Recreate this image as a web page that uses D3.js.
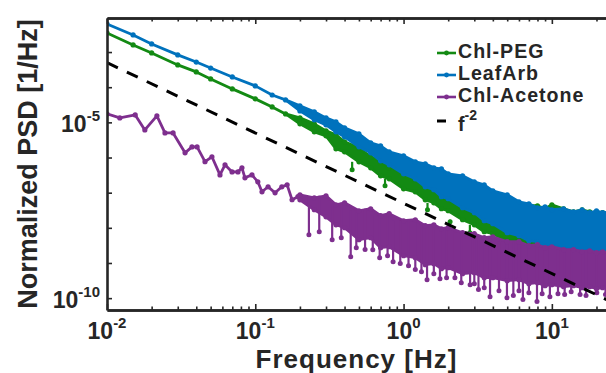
<!DOCTYPE html>
<html>
<head>
<meta charset="utf-8">
<script src="https://cdn.jsdelivr.net/npm/d3@7"></script>
<style>
html, body { margin: 0; padding: 0; background: #fff; }
svg { display: block; }
text { font-family: "Liberation Sans", Arial, sans-serif; font-weight: bold; fill: #262626; }
</style>
</head>
<body>
<div id="chart"></div>
<script>
// 低频段（细线部分）频率 [Hz]
const lowFreq = [0.01, 0.015, 0.02, 0.03, 0.04, 0.05, 0.07, 0.1, 0.13, 0.16];
const pegLow  = [3.49e-3, 1.59e-3, 9.42e-4, 4.31e-4, 2.72e-4, 1.72e-4, 8.95e-5, 4.66e-5, 2.75e-5, 1.74e-5];
const leafLow = [6.3e-3, 3.06e-3, 1.70e-3, 8.3e-4, 5.2e-4, 3.5e-4, 1.96e-4, 1.09e-4, 6.0e-5, 4.36e-5];

// Chl-Acetone 低频段起伏较大，单独取点
const acetoneLowFreq = [0.01, 0.0122, 0.0155, 0.018, 0.0217, 0.0246, 0.0279, 0.0336, 0.0374, 0.0405,
  0.0458, 0.051, 0.0578, 0.0625, 0.0697, 0.0764, 0.0813, 0.0852, 0.095, 0.104,
  0.111, 0.122, 0.136, 0.151, 0.164, 0.177, 0.194];
const acetoneLow = [1.74e-5, 1.34e-5, 1.63e-5, 6.1e-6, 1.53e-5, 5.0e-6, 5.0e-6, 1.36e-6, 2.0e-6, 2.0e-6,
  7.6e-7, 1.05e-6, 3.2e-7, 6.2e-7, 3.9e-7, 3.9e-7, 5.1e-7, 2.65e-7, 3.2e-7, 2.04e-7,
  1.06e-7, 1.47e-7, 9.9e-8, 1.47e-7, 1.67e-7, 6.3e-8, 7.7e-8];

// 高频段噪声带：上沿 / 下沿
const bandFreq = [0.2, 0.25, 0.3, 0.35, 0.4, 0.5, 0.6, 0.7, 0.8, 1.0, 1.2, 1.4, 1.6, 1.8, 2.0, 2.5,
  3, 3.5, 4, 5, 6, 7, 8, 9, 10, 12, 14, 16, 18, 20, 22, 25];
const leafHi = [2.94e-5, 1.99e-5, 1.34e-5, 1.03e-5, 6.98e-6, 4.71e-6, 2.62e-6, 2.15e-6, 1.45e-6, 1.12e-6,
  7.55e-7, 6.62e-7, 5.09e-7, 4.77e-7, 3.44e-7, 3.02e-7, 2.04e-7, 1.67e-7, 1.13e-7, 8.71e-8,
  5.51e-8, 4.84e-8, 3.72e-8, 3.97e-8, 3.27e-8, 3.49e-8, 2.86e-8, 3.27e-8, 2.69e-8, 3.06e-8, 2.69e-8, 2.86e-8];
const leafLo = [2.12e-5, 1.18e-5, 8.49e-6, 5.37e-6, 3.87e-6, 2.01e-6, 1.36e-6, 8.05e-7, 6.21e-7, 3.44e-7,
  2.48e-7, 1.47e-7, 1.21e-7, 7.65e-8, 6.71e-8, 3.72e-8, 2.69e-8, 1.59e-8, 1.31e-8, 7.26e-9,
  5.97e-9, 4.31e-9, 4.03e-9, 3.10e-9, 3.31e-9, 2.55e-9, 2.55e-9, 2.09e-9, 2.23e-9, 1.96e-9, 2.09e-9, 1.84e-9];
const pegHi = [1.34e-5, 9.06e-6, 5.74e-6, 4.42e-6, 2.79e-6, 1.89e-6, 1.05e-6, 8.05e-7, 5.09e-7, 4.19e-7,
  2.48e-7, 2.18e-7, 1.47e-7, 1.38e-7, 9.93e-8, 8.17e-8, 5.89e-8, 5.51e-8, 4.25e-8, 4.53e-8,
  3.72e-8, 4.25e-8, 4.25e-8, 3.49e-8, 4.53e-8, 3.49e-8, 2.86e-8, 3.27e-8, 2.86e-8, 2.52e-8, 2.69e-8, 2.35e-8];
const pegLo = [9.06e-6, 5.37e-6, 4.13e-6, 1.77e-6, 1.45e-6, 7.55e-7, 5.09e-7, 3.02e-7, 2.48e-7, 1.29e-7,
  1.06e-7, 6.28e-8, 5.16e-8, 3.49e-8, 3.06e-8, 1.70e-8, 1.22e-8, 7.74e-9, 6.80e-9, 4.31e-9,
  4.03e-9, 2.90e-9, 2.90e-9, 2.55e-9, 2.55e-9, 2.23e-9, 2.23e-9, 1.96e-9, 2.09e-9, 1.84e-9, 1.96e-9, 1.72e-9];
const acetoneHi = [8.71e-8, 7.16e-8, 8.17e-8, 4.53e-8, 5.16e-8, 3.06e-8, 3.49e-8, 2.21e-8, 2.52e-8, 1.59e-8,
  1.70e-8, 1.15e-8, 1.22e-8, 9.42e-9, 1.01e-8, 7.26e-9, 6.80e-9, 5.24e-9, 5.58e-9, 4.03e-9,
  4.03e-9, 3.10e-9, 3.31e-9, 2.72e-9, 2.90e-9, 2.39e-9, 2.39e-9, 2.09e-9, 2.23e-9, 1.96e-9, 2.09e-9, 1.84e-9];
const acetoneLo = [6.28e-8, 3.27e-8, 2.06e-8, 1.22e-8, 1.01e-8, 4.59e-9, 5.24e-9, 2.72e-9, 2.90e-9, 1.61e-9,
  1.42e-9, 8.95e-10, 9.55e-10, 6.89e-10, 7.35e-10, 4.97e-10, 5.30e-10, 3.82e-10, 3.82e-10, 3.14e-10,
  3.36e-10, 2.58e-10, 2.75e-10, 2.26e-10, 2.42e-10, 2.12e-10, 2.26e-10, 1.99e-10, 2.12e-10, 1.86e-10, 1.99e-10, 1.86e-10];

// 向下的孤立尖峰
const pegSpikeFreq = [0.45, 0.75, 1.45, 2.06, 2.8, 4.4, 5.5];
const pegSpikePsd  = [4.5e-7, 1.57e-7, 3.27e-8, 1.49e-8, 7.26e-9, 3.31e-9, 2.72e-9];
const acetoneSpikeFreq = [0.23, 0.27, 0.33, 0.38, 0.44, 0.48, 0.55, 0.62, 0.69, 0.78, 0.85, 0.95,
  1.08, 1.2, 1.32, 1.44, 1.6, 1.76, 1.95, 2.22, 2.45, 2.81, 3.0, 3.2, 3.5, 3.83, 4.4, 4.98,
  5.5, 6.0, 6.38, 7.0, 7.94, 8.6, 9.7, 11, 12.2, 13.5, 15.5, 17, 20.1, 23];
const acetoneSpikePsd = [6.4e-9, 7.74e-9, 4.6e-9, 5.24e-9, 1.51e-9, 2.72e-9, 2.4e-9, 2.39e-9, 1.42e-9, 1.61e-9, 1.09e-9, 9.6e-10,
  8.4e-10, 6.5e-10, 5.66e-10, 3.36e-10, 4.97e-10, 3.58e-10, 3.82e-10, 3.82e-10, 2.75e-10, 2.42e-10, 2.58e-10, 1.75e-10, 1.99e-10, 1.10e-10, 1.63e-10, 1.03e-10,
  1.18e-10, 1.63e-10, 9.1e-11, 1.43e-10, 8.0e-11, 1.34e-10, 1.10e-10, 1.34e-10, 1.26e-10, 1.53e-10, 1.26e-10, 1.18e-10, 1.43e-10, 1.26e-10];

// f^-2 参考线（两端点）
const refFreq = [0.01, 25];
const refPsd  = [5e-4, 8e-11];

// 坐标轴
const xDomain = [0.01, 30];
const yDomain = [4.6e-11, 9.3e-3];
const xMajor = [0.01, 0.1, 1, 10];
const xMajorExp = ["-2", "-1", "0", "1"];
const xMinor = [0.02, 0.03, 0.04, 0.05, 0.06, 0.07, 0.08, 0.09, 0.2, 0.3, 0.4, 0.5, 0.6, 0.7, 0.8, 0.9,
  2, 3, 4, 5, 6, 7, 8, 9, 20];
const yMajor = [1e-10, 1e-9, 1e-8, 1e-7, 1e-6, 1e-5, 1e-4, 1e-3];
const yLabelVals = [1e-5, 1e-10];
const yLabelExp = ["-5", "-10"];

const names  = ["Chl-PEG", "LeafArb", "Chl-Acetone"];
const colors = ["#138a13", "#0072bd", "#7e2f8e"];

const W = 606, H = 373;
const L = 107, R = 622.6, T = 18, B = 310;

const x = d3.scaleLog().domain(xDomain).range([L, R]);
const y = d3.scaleLog().domain(yDomain).range([B, T]);

const svg = d3.select("#chart").append("svg").attr("width", W).attr("height", H);

svg.append("clipPath").attr("id", "plot")
  .append("rect").attr("x", L).attr("y", T).attr("width", R - L).attr("height", B - T);
const plot = svg.append("g").attr("clip-path", "url(#plot)");

// 组装三组：低频细线 + 高频噪声带
const series = [
  { freq: lowFreq.concat(bandFreq), hi: pegLow.concat(pegHi), lo: pegLow.concat(pegLo),
    spikeF: pegSpikeFreq, spikeP: pegSpikePsd, stemTop: pegLo },
  { freq: lowFreq.concat(bandFreq), hi: leafLow.concat(leafHi), lo: leafLow.concat(leafLo),
    spikeF: [], spikeP: [], stemTop: leafLo },
  { freq: acetoneLowFreq.concat(bandFreq), hi: acetoneLow.concat(acetoneHi), lo: acetoneLow.concat(acetoneLo),
    spikeF: acetoneSpikeFreq, spikeP: acetoneSpikePsd, stemTop: acetoneHi },
];

const area = d3.area().x(d => x(d.f)).y0(d => y(d.lo)).y1(d => y(d.hi));

series.forEach((s, k) => {
  const col = colors[k];
  const pts = s.freq.map((f, i) => ({ f, hi: s.hi[i], lo: s.lo[i] }));
  const g = plot.append("g");
  g.append("path").attr("d", area(pts))
    .attr("fill", col).attr("stroke", col).attr("stroke-width", 2.8).attr("stroke-linejoin", "round");
  // 尖峰
  s.spikeF.forEach((f, i) => {
    const j = Math.min(bandFreq.length - 1, d3.bisectLeft(bandFreq, f));
    g.append("line")
      .attr("x1", x(f)).attr("x2", x(f)).attr("y1", y(s.stemTop[j])).attr("y2", y(s.spikeP[i]))
      .attr("stroke", col).attr("stroke-width", 2.2);
    g.append("circle").attr("cx", x(f)).attr("cy", y(s.spikeP[i])).attr("r", 2.5).attr("fill", col);
  });
  // 标记点（上下沿）
  pts.forEach(d => {
    g.append("circle").attr("cx", x(d.f)).attr("cy", y(d.hi)).attr("r", 2.6).attr("fill", col);
    if (d.lo !== d.hi) g.append("circle").attr("cx", x(d.f)).attr("cy", y(d.lo)).attr("r", 2.6).attr("fill", col);
  });
});

// f^-2 虚线
plot.append("line")
  .attr("x1", x(refFreq[0])).attr("y1", y(refPsd[0]))
  .attr("x2", x(refFreq[1])).attr("y2", y(refPsd[1]))
  .attr("stroke", "#000").attr("stroke-width", 3).attr("stroke-dasharray", "12 10");

// ── 坐标框与刻度（向内）──
const axStyle = g => {
  g.selectAll(".domain").attr("stroke", "#262626").attr("stroke-width", 2.6);
  g.selectAll(".tick line").attr("stroke", "#262626").attr("stroke-width", 1.6);
  g.selectAll(".tick text").remove();
};
svg.append("g").attr("transform", `translate(0,${B})`)
  .call(d3.axisBottom(x).tickValues(xMajor).tickSizeInner(-6).tickSizeOuter(0)).call(axStyle);
svg.append("g").attr("transform", `translate(0,${B})`)
  .call(d3.axisBottom(x).tickValues(xMinor).tickSizeInner(-3.5).tickSizeOuter(0)).call(axStyle);
svg.append("g").attr("transform", `translate(0,${T})`)
  .call(d3.axisTop(x).tickValues(xMajor).tickSizeInner(-6).tickSizeOuter(0)).call(axStyle);
svg.append("g").attr("transform", `translate(0,${T})`)
  .call(d3.axisTop(x).tickValues(xMinor).tickSizeInner(-3.5).tickSizeOuter(0)).call(axStyle);
svg.append("g").attr("transform", `translate(${L},0)`)
  .call(d3.axisLeft(y).tickValues(yMajor).tickSizeInner(-5).tickSizeOuter(0)).call(axStyle);

// 刻度标签（10 的幂）
xMajor.forEach((v, i) => {
  const t = svg.append("text").attr("x", x(v)).attr("y", B + 29)
    .attr("text-anchor", "middle").attr("font-size", 23);
  t.append("tspan").text("10");
  t.append("tspan").attr("font-size", 15).attr("dy", -11).text(xMajorExp[i]);
});
yLabelVals.forEach((v, i) => {
  const t = svg.append("text").attr("x", L - 7).attr("y", y(v) + 10)
    .attr("text-anchor", "end").attr("font-size", 23);
  t.append("tspan").text("10");
  t.append("tspan").attr("font-size", 15).attr("dy", -11).text(yLabelExp[i]);
});

// 轴标题
svg.append("text").attr("x", (L + 606) / 2).attr("y", 368)
  .attr("text-anchor", "middle").attr("font-size", 26).attr("letter-spacing", 1)
  .text("Frequency [Hz]");
svg.append("text").attr("transform", `translate(37,${(T + B) / 2}) rotate(-90)`)
  .attr("text-anchor", "middle").attr("font-size", 27).text("Normalized PSD [1/Hz]");

// 图例
const lg = svg.append("g").attr("transform", "translate(437,0)");
names.forEach((n, i) => {
  const cy = 53 + i * 22;
  lg.append("line").attr("x1", 0).attr("x2", 19).attr("y1", cy).attr("y2", cy)
    .attr("stroke", colors[i]).attr("stroke-width", 2.6);
  lg.append("circle").attr("cx", 9.5).attr("cy", cy).attr("r", 2.4).attr("fill", colors[i]);
  lg.append("text").attr("x", 21).attr("y", cy + 5).attr("font-size", 19.6)
    .attr("letter-spacing", 1).text(n);
});
lg.append("line").attr("x1", 0).attr("x2", 19).attr("y1", 121).attr("y2", 121)
  .attr("stroke", "#000").attr("stroke-width", 3).attr("stroke-dasharray", "9 12");
const ft = lg.append("text").attr("x", 21).attr("y", 131).attr("font-size", 19.6);
ft.append("tspan").text("f");
ft.append("tspan").attr("font-size", 14).attr("dy", -11).text("-2");
</script>
</body>
</html>
